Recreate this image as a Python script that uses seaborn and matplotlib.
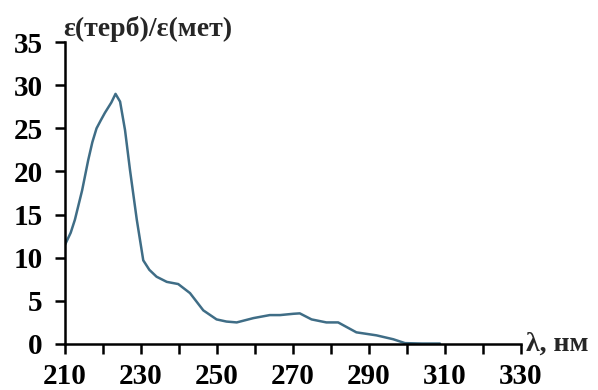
import matplotlib
matplotlib.use("Agg")
import matplotlib.pyplot as plt
import seaborn as sns
import pandas as pd

wavelength = [210, 211.5, 212.6, 214.5, 216.1, 217.2, 218.3, 219.5, 220.5, 222.2, 223.3, 224.5,
              225.8, 227.1, 228.9, 230.6, 232.2, 234.1, 236.8, 239.8, 242.9, 246.4, 249.9,
              252.5, 255.2, 259.6, 263.9, 266.6, 270.1, 271.8, 274.9, 278.8, 281.9, 286.7,
              292.0, 296.4, 299.5, 304.0, 308.7]
ratio = [11.5, 12.9, 14.4, 17.8, 21.3, 23.4, 25.0, 26.0, 26.8, 28.0, 29.0, 28.1,
         24.8, 20.2, 14.4, 9.7, 8.6, 7.8, 7.2, 6.95, 5.9, 3.9, 2.85,
         2.6, 2.5, 3.0, 3.35, 3.35, 3.5, 3.55, 2.85, 2.5, 2.5, 1.35,
         1.0, 0.55, 0.1, 0.05, 0.05]

x_ticks = list(range(210, 331, 10))
x_labels = [str(v) if (v - 210) % 20 == 0 else "" for v in x_ticks]
y_ticks = list(range(0, 36, 5))

sns.set_theme(style="ticks")
plt.rcParams['font.family'] = ['Liberation Serif', 'DejaVu Serif']

fig = plt.figure(figsize=(5.98, 3.9), dpi=100)
ax = fig.add_axes([0.1087, 0.118, 0.871 - 0.1087, 0.892 - 0.118])

df = pd.DataFrame({"wl": wavelength, "r": ratio})
sns.lineplot(data=df, x="wl", y="r", ax=ax, color="#3f6d86", linewidth=1.8)

ax.set_xlim(210, 330)
ax.set_ylim(0, 35)
ax.set_xticks(x_ticks)
ax.set_xticklabels(x_labels)
ax.set_yticks(y_ticks)
ax.set_xlabel("")
ax.set_ylabel("")
sns.despine(ax=ax)
for s in ["left", "bottom"]:
    ax.spines[s].set_linewidth(1.8)
    ax.spines[s].set_color("black")
ax.tick_params(axis="both", direction="out", length=7, width=1.8, colors="black",
               labelsize=21)
ax.tick_params(axis="x", pad=7)
ax.tick_params(axis="y", pad=9)
for lab in ax.get_xticklabels() + ax.get_yticklabels():
    lab.set_fontweight("bold")

fig.text(0.105, 0.925, "ε(терб)/ε(мет)", fontsize=20, fontweight="bold",
         ha="left", va="center")
fig.text(0.88, 0.118, "λ, нм", fontsize=20, fontweight="bold",
         ha="left", va="center")

fig.savefig("out.png", dpi=100)
